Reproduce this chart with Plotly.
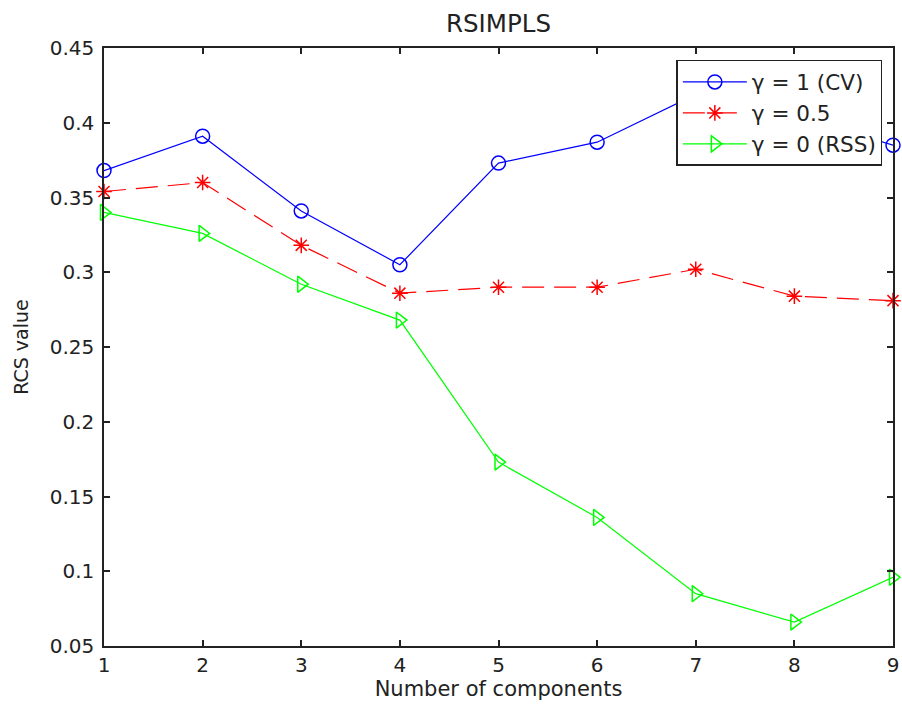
import plotly.graph_objects as go

components = [1, 2, 3, 4, 5, 6, 7, 8, 9]
gamma1_cv = [0.368, 0.391, 0.341, 0.305, 0.373, 0.387, 0.419, 0.405, 0.385]
gamma05 = [0.354, 0.360, 0.318, 0.286, 0.290, 0.290, 0.302, 0.284, 0.281]
gamma0_rss = [0.340, 0.326, 0.292, 0.268, 0.173, 0.136, 0.085, 0.066, 0.096]
y_tickvals = [0.05, 0.1, 0.15, 0.2, 0.25, 0.3, 0.35, 0.4, 0.45]
y_ticktext = ["0.05", "0.1", "0.15", "0.2", "0.25", "0.3", "0.35", "0.4", "0.45"]
x_tickvals = [1, 2, 3, 4, 5, 6, 7, 8, 9]

FONT = "DejaVu Sans"
TXT = "#222222"

fig = go.Figure()
fig.add_trace(go.Scatter(
    x=components, y=gamma1_cv, mode="lines+markers", name="γ = 1 (CV)",
    line=dict(color="#0000ff", width=1.2),
    marker=dict(symbol="circle-open", size=14, color="#0000ff", line=dict(width=1.5, color="#0000ff")),
    cliponaxis=False,
))
fig.add_trace(go.Scatter(
    x=components, y=gamma05, mode="lines+markers", name="γ = 0.5",
    line=dict(color="#ff0000", width=1.2, dash="22px,10px"),
    marker=dict(symbol="asterisk-open", size=13, color="#ff0000", line=dict(width=1.5, color="#ff0000")),
    cliponaxis=False,
))
fig.add_trace(go.Scatter(
    x=components, y=gamma0_rss, mode="lines+markers", name="γ = 0 (RSS)",
    line=dict(color="#00ff00", width=1.2),
    marker=dict(symbol="triangle-right-open", size=14, color="#00ff00", line=dict(width=1.5, color="#00ff00")),
    cliponaxis=False,
))

fig.update_layout(
    width=902, height=705,
    margin=dict(l=104, r=9, t=48, b=59, autoexpand=False),
    paper_bgcolor="white", plot_bgcolor="white",
    font=dict(family=FONT, size=20, color=TXT),
    title=dict(text="RSIMPLS", x=0.5, xref="paper", xanchor="center",
               y=1 - 23 / 705, yanchor="middle", font=dict(family=FONT, size=24.5, color=TXT)),
    showlegend=True,
    legend=dict(
        x=0.9865, y=0.98, xanchor="right", yanchor="top",
        bgcolor="white", bordercolor=TXT, borderwidth=1.5,
        font=dict(family=FONT, size=21.5, color=TXT),
        tracegroupgap=0, itemwidth=64,
    ),
    xaxis=dict(
        range=[1, 9], tickvals=x_tickvals, ticks="inside", ticklen=6, tickwidth=1.5,
        tickcolor=TXT, showline=True, linecolor=TXT, linewidth=1.5, automargin=False,
        mirror="ticks", showgrid=False, zeroline=False,
        tickfont=dict(family=FONT, size=20, color=TXT),
        title=dict(text="Number of components", font=dict(family=FONT, size=21, color=TXT), standoff=4),
    ),
    yaxis=dict(
        range=[0.05, 0.45], tickvals=y_tickvals, ticktext=y_ticktext, ticks="inside", ticklen=6,
        tickwidth=1.5, tickcolor=TXT, showline=True, linecolor=TXT, linewidth=1.5, automargin=False,
        mirror="ticks", showgrid=False, zeroline=False, ticklabelstandoff=4,
        tickfont=dict(family=FONT, size=20, color=TXT),
        title=dict(text="RCS value", font=dict(family=FONT, size=19, color=TXT), standoff=16),
    ),
)

fig.write_html(
    "out.html",
    config={"displayModeBar": False},
    post_script="document.body.style.margin='0';document.body.style.overflow='hidden';",
)
